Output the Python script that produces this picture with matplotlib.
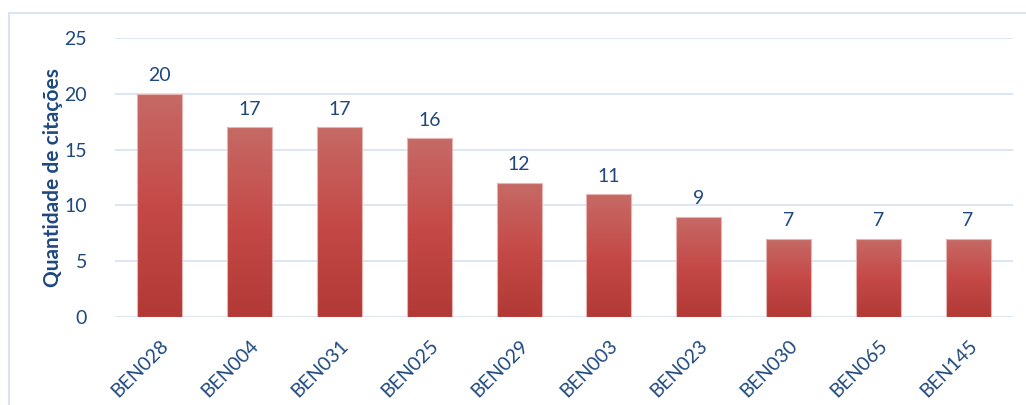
import numpy as np
import matplotlib.pyplot as plt
from matplotlib.colors import LinearSegmentedColormap
from matplotlib.patches import Rectangle

codes = ['BEN028', 'BEN004', 'BEN031', 'BEN025', 'BEN029',
         'BEN003', 'BEN023', 'BEN030', 'BEN065', 'BEN145']
citacoes = [20, 17, 17, 16, 12, 11, 9, 7, 7, 7]
y_ticks = [0, 5, 10, 15, 20, 25]

text_color = '#1F497D'
grid_color = '#D9E4F4'

plt.rcParams['font.family'] = ['Lato', 'DejaVu Sans']

fig = plt.figure(figsize=(10.26, 4.05), dpi=100)
ax = fig.add_axes([0.1121, 0.2173, 0.8752, 0.6889])

# outer chart frame (only top and left visible in the crop)
fig.patches.append(Rectangle((9 / 1026, -0.1), 1.2, 1 - 13 / 405 + 0.1,
                             transform=fig.transFigure, fill=False,
                             edgecolor='#D6E2F2', linewidth=1.3))

x = np.arange(len(codes))
bars = ax.bar(x, citacoes, width=0.5, color='none',
              edgecolor='#E6B4B2', linewidth=0.8, zorder=3)

# vertical gradient in each bar: lighter on top, darker at bottom
cmap = LinearSegmentedColormap.from_list('red_grad', ['#B23935', '#C54A47', '#C66A66'])
grad = np.linspace(0, 1, 256).reshape(-1, 1)
for bar in bars:
    bx, by = bar.get_x(), bar.get_y()
    w, h = bar.get_width(), bar.get_height()
    im = ax.imshow(grad, cmap=cmap, origin='lower', aspect='auto',
                   extent=[bx, bx + w, by, by + h], zorder=2)
    im.set_clip_path(bar)

for xi, v in zip(x, citacoes):
    ax.annotate(str(v), (xi, v), xytext=(0, 7), textcoords='offset points',
                ha='center', va='bottom', fontsize=14, color=text_color)

ax.set_xlim(-0.5, len(codes) - 0.5)
ax.set_ylim(0, 25)
ax.set_yticks(y_ticks)
ax.set_xticks(x)
ax.set_xticklabels(codes, rotation=45, ha='right', rotation_mode='anchor',
                   fontsize=14, color=text_color)
ax.tick_params(axis='y', labelsize=14, labelcolor=text_color, length=0, pad=20)
ax.tick_params(axis='x', length=0, pad=14)

ax.grid(axis='y', color=grid_color, linewidth=1.3, zorder=0)
ax.set_axisbelow(True)
for s in ax.spines.values():
    s.set_visible(False)

ax.set_ylabel('Quantidade de citações', fontsize=15, fontweight='bold',
              color=text_color, labelpad=1)

fig.savefig('out.png', dpi=100)
